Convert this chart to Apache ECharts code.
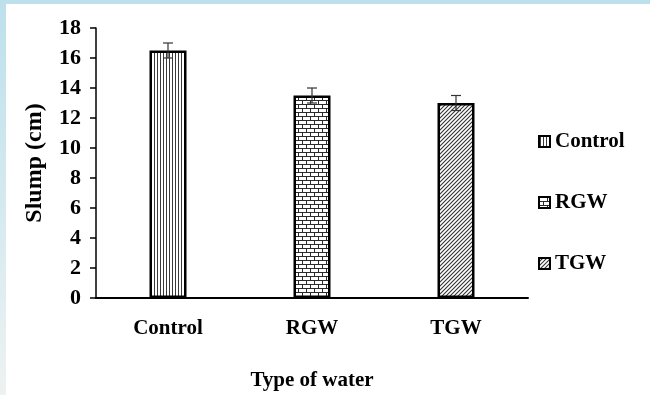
<!DOCTYPE html>
<html>
    <head>
        <meta charset="utf-8">
        <script src="https://cdn.jsdelivr.net/npm/echarts@6/dist/echarts.min.js"></script>
    </head>
    <body>
        <style>
            html, body {
                width: 100%;
                height: 100%;
                margin: 0;
                background: linear-gradient(180deg, #bde0ec 0%, #d6eaef 55%, #eef2f1 100%);
            }
            #main {
                position: absolute;
                left: 6px;
                top: 4px;
                width: 644px;
                height: 391px;
                background: #fff;
            }
        </style>
        <div id="main"></div>
        <script>
            var categories = ['Control', 'RGW', 'TGW'];
            var slump = [16.5, 13.5, 13];
            var errors = [0.5, 0.5, 0.5];
            var yTicks = [0, 2, 4, 6, 8, 10, 12, 14, 16, 18];

            var font = 'Liberation Serif';

            // small canvas tiles used as fill patterns
            // (set the size first: resizing a canvas resets its context)
            function makePattern(kind) {
                var c = document.createElement('canvas');
                var size = kind === 'brick' ? 8 : (kind === 'vertical' ? 3 : 4);
                c.width = size;
                c.height = kind === 'vertical' ? 4 : size;
                var ctx = c.getContext('2d');
                ctx.fillStyle = '#fff';
                ctx.fillRect(0, 0, c.width, c.height);
                if (kind === 'vertical') {
                    ctx.fillStyle = '#3a3a3a';
                    ctx.fillRect(1, 0, 1, 4);
                } else if (kind === 'brick') {
                    ctx.fillStyle = '#2a2a2a';
                    ctx.fillRect(0, 0, 8, 1);
                    ctx.fillRect(0, 4, 8, 1);
                    ctx.fillRect(0, 0, 1, 4);
                    ctx.fillRect(4, 4, 1, 4);
                } else {
                    ctx.strokeStyle = '#333';
                    ctx.lineWidth = 1.1;
                    ctx.beginPath();
                    ctx.moveTo(0, 4); ctx.lineTo(4, 0);
                    ctx.moveTo(-1, 1); ctx.lineTo(1, -1);
                    ctx.moveTo(3, 5); ctx.lineTo(5, 3);
                    ctx.stroke();
                }
                return { image: c, repeat: 'repeat' };
            }

            var patterns = [makePattern('vertical'), makePattern('brick'), makePattern('diagonal')];

            var chart = echarts.init(document.getElementById('main'));

            var barSeries = categories.map(function (name, i) {
                return {
                    name: name,
                    type: 'bar',
                    stack: 'all',
                    barWidth: 37,
                    data: slump.map(function (v, j) { return j === i ? v : '-'; }),
                    itemStyle: {
                        color: patterns[i],
                        borderColor: '#000',
                        borderWidth: 2.5
                    }
                };
            });

            var errorData = slump.map(function (v, i) {
                return [i, v - errors[i], v + errors[i]];
            });

            var textStyle = {
                fontFamily: font,
                fontWeight: 'bold',
                fontSize: 21,
                color: '#000'
            };

            chart.setOption({
                animation: false,
                grid: {
                    left: 90,
                    right: 122,
                    top: 24,
                    bottom: 97,
                    outerBoundsMode: 'none'
                },
                legend: {
                    orient: 'vertical',
                    left: 527,
                    top: 122,
                    itemWidth: 11,
                    itemHeight: 11,
                    itemGap: 40,
                    icon: 'rect',
                    textStyle: textStyle,
                    itemStyle: { borderColor: '#000', borderWidth: 2 },
                    data: categories
                },
                xAxis: {
                    type: 'category',
                    data: categories,
                    name: 'Type of water',
                    nameLocation: 'middle',
                    nameGap: 72,
                    nameTextStyle: textStyle,
                    axisLine: { lineStyle: { color: '#000', width: 2 } },
                    axisTick: { show: false },
                    axisLabel: Object.assign({ margin: 20 }, textStyle)
                },
                yAxis: {
                    type: 'value',
                    min: yTicks[0],
                    max: yTicks[yTicks.length - 1],
                    interval: 2,
                    name: 'Slump (cm)',
                    nameLocation: 'middle',
                    nameGap: 49,
                    nameTextStyle: Object.assign({}, textStyle, { fontSize: 24 }),
                    splitLine: { show: false },
                    axisLine: { show: true, lineStyle: { color: '#000', width: 1.5 } },
                    axisTick: { show: true, length: 6, lineStyle: { color: '#000', width: 1.5 } },
                    axisLabel: Object.assign({ margin: 15 }, textStyle, { fontSize: 22 })
                },
                series: barSeries.concat([{
                    type: 'custom',
                    name: 'error',
                    z: 10,
                    data: errorData,
                    renderItem: function (params, api) {
                        var x = api.value(0);
                        var lo = api.coord([x, api.value(1)]);
                        var hi = api.coord([x, api.value(2)]);
                        var w = 5;
                        var style = { stroke: '#333', lineWidth: 1.2 };
                        return {
                            type: 'group',
                            children: [
                                { type: 'line', shape: { x1: hi[0], y1: hi[1], x2: lo[0], y2: lo[1] }, style: style },
                                { type: 'line', shape: { x1: hi[0] - w, y1: hi[1], x2: hi[0] + w, y2: hi[1] }, style: style },
                                { type: 'line', shape: { x1: lo[0] - w, y1: lo[1], x2: lo[0] + w, y2: lo[1] }, style: style }
                            ]
                        };
                    }
                }])
            });
        </script>
    </body>
</html>
